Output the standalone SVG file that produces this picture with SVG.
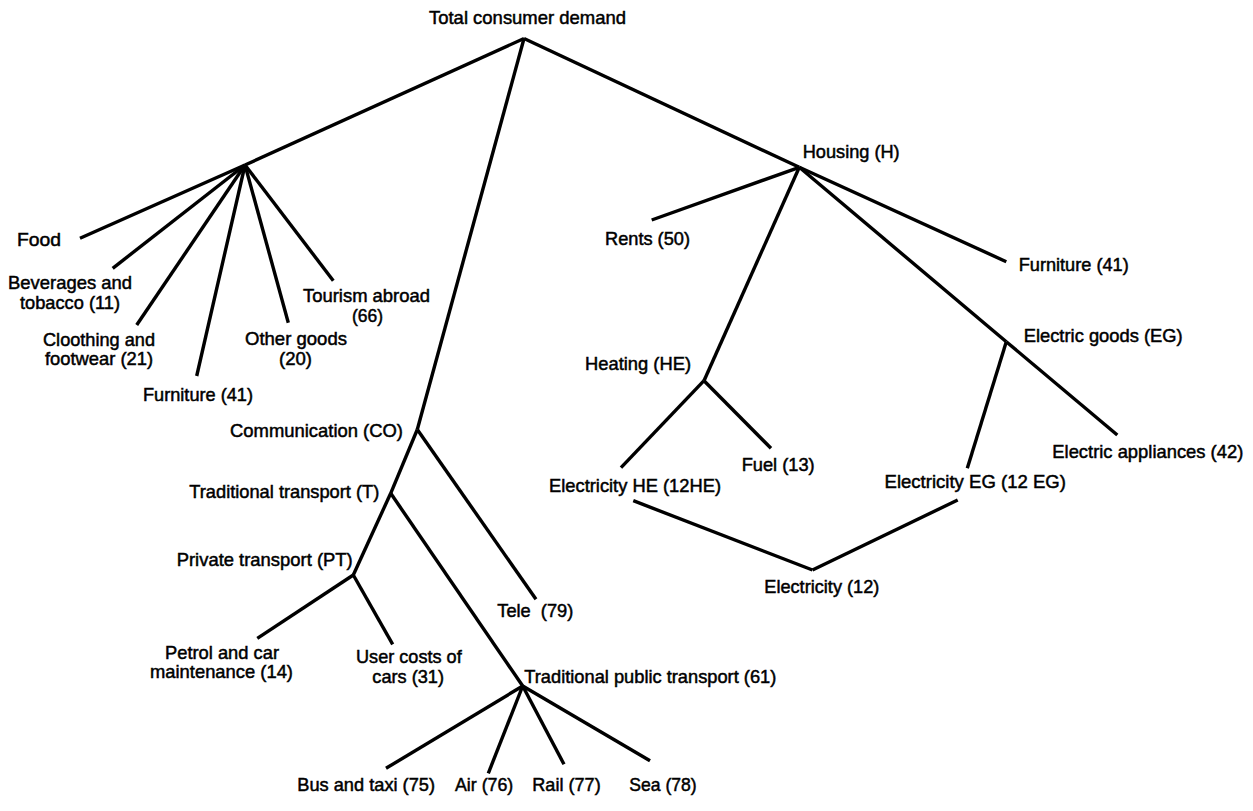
<svg xmlns="http://www.w3.org/2000/svg" width="1253" height="811" viewBox="0 0 1253 811">
<style>
  .bg { fill: #ffffff; }
  .edge { stroke: #000; stroke-width: 3.4; fill: none; stroke-linecap: butt; }
  text { font-family: "Liberation Sans", Arial, Helvetica, sans-serif; font-size: 19px; fill: #000; stroke: #000; stroke-width: 0.5; }
</style>
<rect class="bg" x="0" y="0" width="1253" height="811"/>
<g id="connectors">
  <line class="edge" x1="524" y1="38.5" x2="245" y2="165"/>
  <line class="edge" x1="524" y1="38.5" x2="417.3" y2="429.5"/>
  <line class="edge" x1="524" y1="38.5" x2="799.3" y2="167.3"/>
  <line class="edge" x1="245" y1="165" x2="80" y2="238.3"/>
  <line class="edge" x1="245" y1="165" x2="112.7" y2="268.3"/>
  <line class="edge" x1="245" y1="165" x2="136.7" y2="325"/>
  <line class="edge" x1="245" y1="165" x2="196.7" y2="376"/>
  <line class="edge" x1="245" y1="165" x2="288.3" y2="322.7"/>
  <line class="edge" x1="245" y1="165" x2="333.3" y2="280.7"/>
  <line class="edge" x1="417.3" y1="429.5" x2="390.7" y2="493.3"/>
  <line class="edge" x1="417.3" y1="429.5" x2="536" y2="599.3"/>
  <line class="edge" x1="390.7" y1="493.3" x2="353.3" y2="575"/>
  <line class="edge" x1="390.7" y1="493.3" x2="522.7" y2="686"/>
  <line class="edge" x1="353.3" y1="575" x2="257.3" y2="638.3"/>
  <line class="edge" x1="353.3" y1="575" x2="392.7" y2="644.3"/>
  <line class="edge" x1="522.7" y1="686" x2="386" y2="768.3"/>
  <line class="edge" x1="522.7" y1="686" x2="488.3" y2="773.3"/>
  <line class="edge" x1="522.7" y1="686" x2="564" y2="764.3"/>
  <line class="edge" x1="522.7" y1="686" x2="650" y2="760.7"/>
  <line class="edge" x1="799.3" y1="167.3" x2="651.7" y2="220"/>
  <line class="edge" x1="799.3" y1="167.3" x2="1006.3" y2="261.7"/>
  <line class="edge" x1="799.3" y1="167.3" x2="704" y2="380.7"/>
  <line class="edge" x1="799.3" y1="167.3" x2="1006.3" y2="341.7"/>
  <line class="edge" x1="1006.3" y1="341.7" x2="1117.3" y2="435"/>
  <line class="edge" x1="1006.3" y1="341.7" x2="967.3" y2="468.3"/>
  <line class="edge" x1="704" y1="380.7" x2="621" y2="467.7"/>
  <line class="edge" x1="704" y1="380.7" x2="771" y2="448.3"/>
  <line class="edge" x1="633.3" y1="500.7" x2="812.5" y2="570"/>
  <line class="edge" x1="812.5" y1="570" x2="957.7" y2="500"/>
</g>
<g id="n-total"><text x="429" y="24" textLength="197" lengthAdjust="spacingAndGlyphs">Total consumer demand</text></g>
<g id="n-food"><text x="17" y="245.7" textLength="44" lengthAdjust="spacingAndGlyphs">Food</text></g>
<g id="n-beverages"><text x="8" y="289" textLength="124" lengthAdjust="spacingAndGlyphs">Beverages and</text><text x="20" y="308.5" textLength="100" lengthAdjust="spacingAndGlyphs">tobacco (11)</text></g>
<g id="n-clothing"><text x="43" y="346" textLength="112" lengthAdjust="spacingAndGlyphs">Cloothing and</text><text x="45" y="365" textLength="108" lengthAdjust="spacingAndGlyphs">footwear (21)</text></g>
<g id="n-furniture1"><text x="143" y="400.7" textLength="110" lengthAdjust="spacingAndGlyphs">Furniture (41)</text></g>
<g id="n-other"><text x="245" y="345" textLength="102" lengthAdjust="spacingAndGlyphs">Other goods</text><text x="279" y="365" textLength="33" lengthAdjust="spacingAndGlyphs">(20)</text></g>
<g id="n-tourism"><text x="303" y="301.7" textLength="127" lengthAdjust="spacingAndGlyphs">Tourism abroad</text><text x="352" y="321.7" textLength="31" lengthAdjust="spacingAndGlyphs">(66)</text></g>
<g id="n-housing"><text x="802.7" y="158.3" textLength="97" lengthAdjust="spacingAndGlyphs">Housing (H)</text></g>
<g id="n-rents"><text x="605" y="245" textLength="85" lengthAdjust="spacingAndGlyphs">Rents (50)</text></g>
<g id="n-furniture2"><text x="1018.7" y="271" textLength="110" lengthAdjust="spacingAndGlyphs">Furniture (41)</text></g>
<g id="n-heating"><text x="585" y="370" textLength="106" lengthAdjust="spacingAndGlyphs">Heating (HE)</text></g>
<g id="n-electricgoods"><text x="1023.7" y="341.7" textLength="159" lengthAdjust="spacingAndGlyphs">Electric goods (EG)</text></g>
<g id="n-appliances"><text x="1052.3" y="458.3" textLength="191" lengthAdjust="spacingAndGlyphs">Electric appliances (42)</text></g>
<g id="n-fuel"><text x="741.7" y="471" textLength="73" lengthAdjust="spacingAndGlyphs">Fuel (13)</text></g>
<g id="n-elecHE"><text x="549" y="491.7" textLength="172" lengthAdjust="spacingAndGlyphs">Electricity HE (12HE)</text></g>
<g id="n-elecEG"><text x="884.5" y="487.7" textLength="181.5" lengthAdjust="spacingAndGlyphs">Electricity EG (12 EG)</text></g>
<g id="n-electricity"><text x="764.3" y="593.3" textLength="115" lengthAdjust="spacingAndGlyphs">Electricity (12)</text></g>
<g id="n-communication"><text x="230" y="437.3" textLength="173" lengthAdjust="spacingAndGlyphs">Communication (CO)</text></g>
<g id="n-tradtransport"><text x="189.3" y="498.3" textLength="190" lengthAdjust="spacingAndGlyphs">Traditional transport (T)</text></g>
<g id="n-private"><text x="176.7" y="565.7" textLength="176" lengthAdjust="spacingAndGlyphs">Private transport (PT)</text></g>
<g id="n-petrol"><text x="165" y="659.3" textLength="114" lengthAdjust="spacingAndGlyphs">Petrol and car</text><text x="150" y="678.3" textLength="143" lengthAdjust="spacingAndGlyphs">maintenance (14)</text></g>
<g id="n-usercosts"><text x="356" y="663.3" textLength="105.7" lengthAdjust="spacingAndGlyphs">User costs of</text><text x="372.3" y="683.3" textLength="71.7" lengthAdjust="spacingAndGlyphs">cars (31)</text></g>
<g id="n-tele"><text x="497.3" y="616.7" textLength="76" lengthAdjust="spacingAndGlyphs" xml:space="preserve">Tele  (79)</text></g>
<g id="n-public"><text x="524.3" y="683" textLength="252" lengthAdjust="spacingAndGlyphs">Traditional public transport (61)</text></g>
<g id="n-bus"><text x="297.3" y="790.7" textLength="137.7" lengthAdjust="spacingAndGlyphs">Bus and taxi (75)</text></g>
<g id="n-air"><text x="455" y="790.7" textLength="58.3" lengthAdjust="spacingAndGlyphs">Air (76)</text></g>
<g id="n-rail"><text x="532.3" y="790.7" textLength="68.4" lengthAdjust="spacingAndGlyphs">Rail (77)</text></g>
<g id="n-sea"><text x="629.3" y="790.7" textLength="67.4" lengthAdjust="spacingAndGlyphs">Sea (78)</text></g>
</svg>
